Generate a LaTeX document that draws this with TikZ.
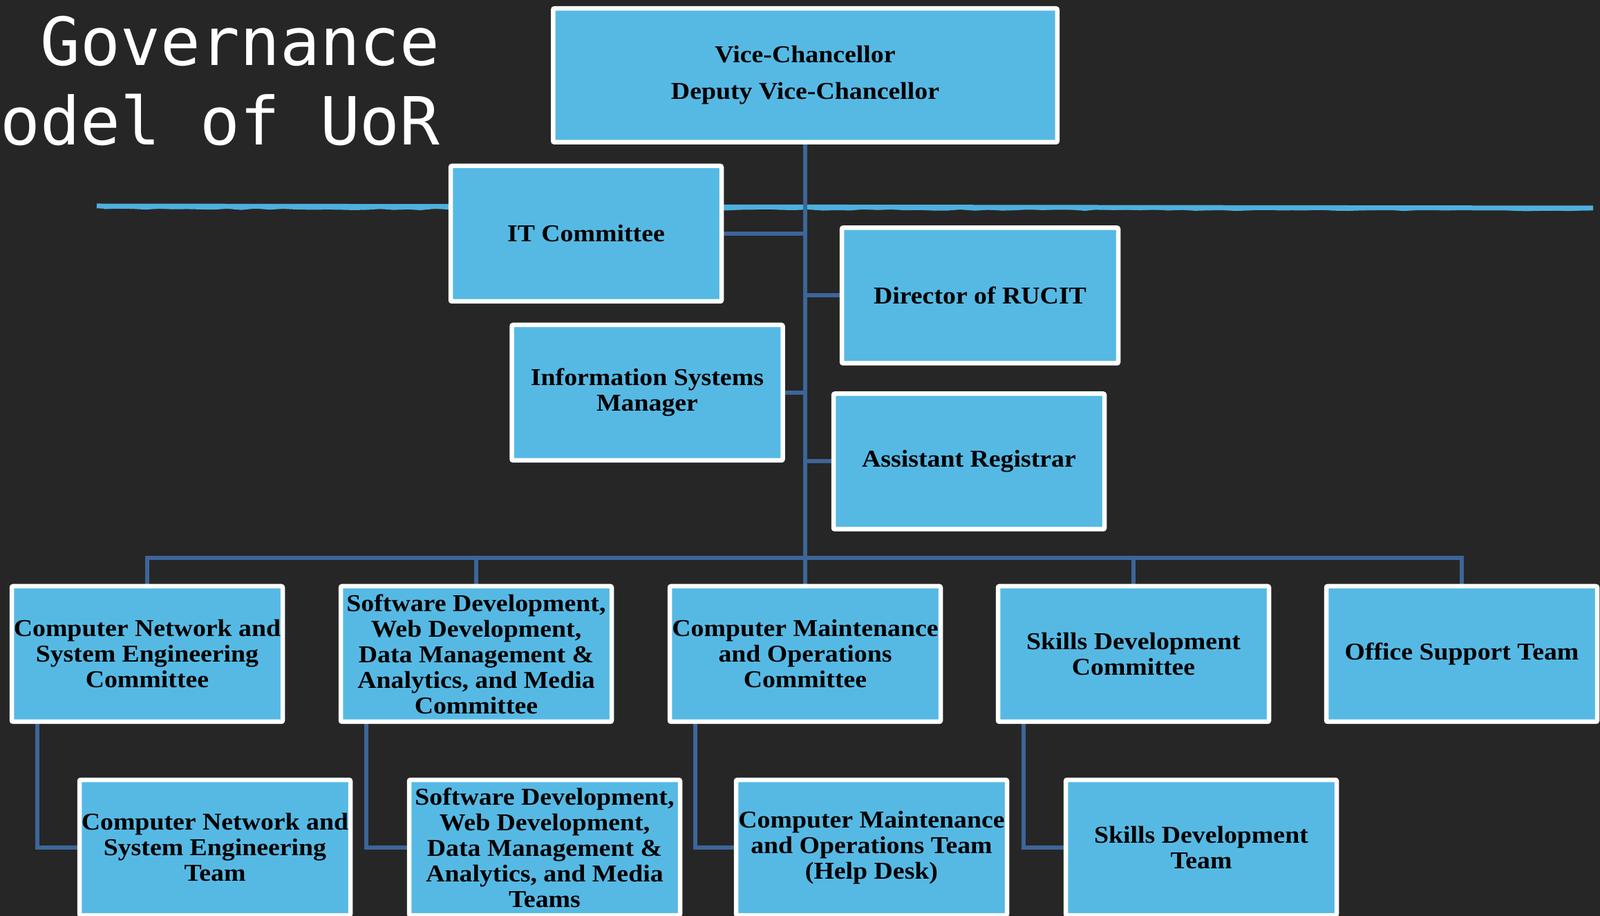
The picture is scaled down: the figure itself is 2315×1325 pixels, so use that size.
\documentclass[tikz,border=0pt]{standalone}
\usepackage{fontspec}
\setmainfont{Liberation Serif}
\newfontfamily\titlefont{DejaVu Sans Mono}
\newfontfamily\boxfont[FakeStretch=1.08]{Liberation Serif}
\usepackage{tikz}
\usetikzlibrary{decorations.pathmorphing}

\definecolor{board}{RGB}{38,38,38}
\definecolor{boxblue}{RGB}{86,185,228}
\definecolor{linkblue}{RGB}{61,101,153}
\definecolor{chalkblue}{RGB}{78,176,222}

\pgfdeclarelayer{board}
\pgfdeclarelayer{links}
\pgfsetlayers{board,links,main}

\begin{document}
\begin{tikzpicture}[x=0.5pt, y=-0.5pt,
  unit/.style={draw=white, line width=3.25pt, fill=boxblue, rounded corners=1pt,
    minimum width=196pt, minimum height=98pt, inner sep=0pt, align=center,
    font=\boxfont\bfseries\fontsize{17.5}{18.5}\selectfont},
  link/.style={draw=linkblue, line width=3pt},
  chalk/.style={draw=chalkblue, line width=3.5pt},
  heading/.style={text=white, inner sep=0pt, anchor=base east,
    font=\titlefont\fontsize{48}{56}\selectfont}]
\useasboundingbox (0,0) rectangle (2315,1325);

% title
\node[heading] (title1) at (637,95) {Governance};
\node[heading] (title2) at (637,210) {odel of UoR};

% top of the chart
\node[unit, minimum width=364.75pt, minimum height=96.75pt] (vc) at (1165,109)
  {Vice-Chancellor\\[8pt]Deputy Vice-Chancellor};
\node[unit] (itc) at (848,338) {IT Committee};
\node[unit, minimum width=200pt] (rucit) at (1418,427.5) {Director of RUCIT};
\node[unit] (ism) at (936.5,568) {Information Systems\\Manager};
\node[unit] (ar) at (1402,667.5) {Assistant Registrar};
\coordinate (bus) at (1165,807);

% committees
\node[unit] (c1) at (213,946) {Computer Network and\\System Engineering\\Committee};
\node[unit] (c2) at (689,946) {Software Development,\\Web Development,\\Data Management \&\\Analytics, and Media\\Committee};
\node[unit] (c3) at (1165,946) {Computer Maintenance\\and Operations\\Committee};
\node[unit] (c4) at (1640,946) {Skills Development\\Committee};
\node[unit] (c5) at (2115,946) {Office Support Team};

% teams
\node[unit] (t1) at (311,1226) {Computer Network and\\System Engineering\\Team};
\node[unit] (t2) at (788,1226) {Software Development,\\Web Development,\\Data Management \&\\Analytics, and Media\\Teams};
\node[unit] (t3) at (1261,1226) {Computer Maintenance\\and Operations Team\\(Help Desk)};
\node[unit] (t4) at (1738,1226) {Skills Development\\Team};

\begin{pgfonlayer}{links}
\draw[link] (vc.south) -- (bus);
\draw[link] (itc.east) -- (itc.east -| bus);
\draw[link] (rucit.west) -- (rucit.west -| bus);
\draw[link] (ism.east) -- (ism.east -| bus);
\draw[link] (ar.west) -- (ar.west -| bus);
\draw[link] (c1.north) -- (c1.north |- bus) -- (c5.north |- bus) -- (c5.north);
\foreach \n in {c2,c3,c4}
  \draw[link] (\n.north) -- (\n.north |- bus);
\foreach \n/\m in {c1/t1,c2/t2,c3/t3,c4/t4}
  \draw[link] ([xshift=20pt]\n.south west) |- (\m.west);
\end{pgfonlayer}

\begin{pgfonlayer}{board}
\fill[board] (0,0) rectangle (2315,1325);
\draw[chalk] (140,298) -- (2305,301);
\draw[chalk, line width=1.5pt, decorate,
  decoration={random steps, segment length=10pt, amplitude=0.6pt}] (150,301) -- (2300,303);
\end{pgfonlayer}
\end{tikzpicture}
\end{document}
